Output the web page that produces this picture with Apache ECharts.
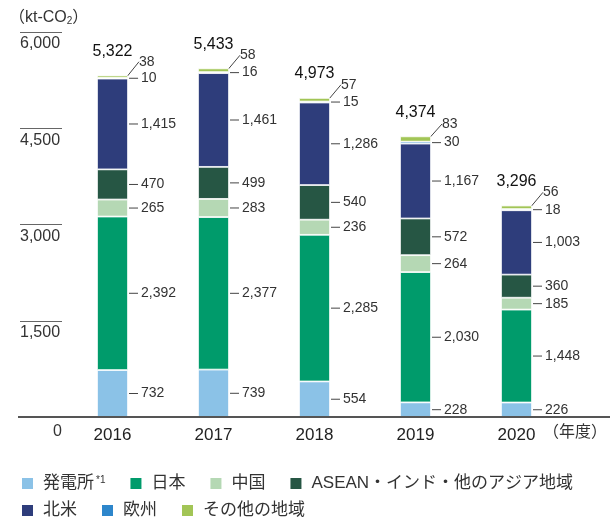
<!DOCTYPE html>
<html>
<head>
<meta charset="utf-8">
<script src="https://cdn.jsdelivr.net/npm/echarts@6/dist/echarts.min.js"></script>
<style>
html, body { margin: 0; padding: 0; background: #fff; }
#main { width: 610px; height: 521px; }
</style>
</head>
<body>
<div id="main"></div>
<script>
// 年度別 CO2 排出量 (kt-CO2)
const years = ['2016', '2017', '2018', '2019', '2020']
const plant = [732, 739, 554, 228, 226]
const japan = [2392, 2377, 2285, 2030, 1448]
const china = [265, 283, 236, 264, 185]
const asean = [470, 499, 540, 572, 360]
const northAmerica = [1415, 1461, 1286, 1167, 1003]
const europe = [10, 16, 15, 30, 18]
const others = [38, 58, 57, 83, 56]
const totals = [5322, 5433, 4973, 4374, 3296]
const yTicks = [0, 1500, 3000, 4500, 6000]

const names = ['発電所*1', '日本', '中国', 'ASEAN・インド・他のアジア地域', '北米', '欧州', 'その他の地域']
const colors = ['#8bc2e7', '#009b6b', '#b5d8b4', '#265644', '#2e3d7b', '#2d86cb', '#a2c556']
const values = [plant, japan, china, asean, northAmerica, europe, others]

const FONT = '"Liberation Sans", "Noto Sans CJK JP", sans-serif'
const fmt = v => v.toLocaleString('en-US')

let series = values.map((arr, i) => {
  let last = i === values.length - 1
  let s = {
    name: names[i],
    type: 'bar',
    stack: 'co2',
    barWidth: 31,
    data: arr,
    itemStyle: { color: colors[i], borderColor: '#fff', borderWidth: 0.8 },
    label: {
      show: true,
      position: 'right',
      distance: 1,
      fontFamily: FONT,
      fontSize: 14,
      color: '#333',
      formatter: p => last ? '{v|' + fmt(p.value) + '}' : '{l|}{v|' + fmt(p.value) + '}',
      rich: {
        l: { width: 9, height: 1, backgroundColor: '#444' },
        v: { fontFamily: FONT, fontSize: 14, color: '#333', padding: [0, 0, 0, 3] }
      }
    }
  }
  if (last) {
    s.label.distance = 8
    s.labelLayout = { dy: -15 }
    s.labelLine = { show: true, lineStyle: { color: '#444', width: 1 } }
  }
  return s
})

// 合計ラベル用 (透明)
series.push({
  name: 'total',
  type: 'bar',
  barWidth: 31,
  barGap: '-100%',
  silent: true,
  z: 1,
  data: totals,
  itemStyle: { color: 'rgba(0,0,0,0)' },
  label: {
    show: true,
    position: 'top',
    distance: 16,
    fontFamily: FONT,
    fontSize: 16,
    color: '#111',
    formatter: p => fmt(p.value)
  }
})

const legendText = {
  fontFamily: FONT,
  fontSize: 17,
  color: '#333',
  padding: [0, 0, 0, 4],
  rich: {
    sup: { fontFamily: FONT, fontSize: 10, color: '#333', padding: [0, 0, 7, 2] }
  }
}
const legendFmt = n => n === '発電所*1' ? '発電所{sup|*1}' : n

let myChart = echarts.init(document.getElementById('main'))
let option = {
  animation: false,
  title: {
    text: '（kt-CO{s|2}）',
    left: 4,
    top: 5,
    textStyle: {
      fontFamily: FONT,
      fontSize: 16,
      fontWeight: 'normal',
      color: '#333',
      rich: {
        s: { fontFamily: FONT, fontSize: 10, color: '#333', padding: [6, 0, 0, 0] }
      }
    }
  },
  grid: { left: 62, right: 36, top: 32, bottom: 104 },
  legend: [
    {
      data: names.slice(0, 4),
      left: 15,
      top: 470,
      itemWidth: 13,
      itemHeight: 13,
      itemGap: 23,
      icon: 'rect',
      formatter: legendFmt,
      textStyle: legendText
    },
    {
      data: names.slice(4),
      left: 15,
      top: 497,
      itemWidth: 13,
      itemHeight: 13,
      itemGap: 23,
      icon: 'rect',
      formatter: legendFmt,
      textStyle: legendText
    }
  ],
  xAxis: {
    type: 'category',
    data: years,
    axisLine: { show: false },
    axisTick: { show: false },
    axisLabel: { fontFamily: FONT, fontSize: 17, color: '#222', margin: 10 },
    name: '（年度）',
    nameLocation: 'end',
    nameGap: -24,
    nameTextStyle: {
      fontFamily: FONT,
      fontSize: 16,
      color: '#333',
      align: 'left',
      verticalAlign: 'top',
      padding: [8, 0, 0, 0]
    }
  },
  yAxis: {
    type: 'value',
    min: yTicks[0],
    max: yTicks[yTicks.length - 1],
    interval: yTicks[1] - yTicks[0],
    axisLine: { show: false },
    splitLine: { show: false },
    axisTick: { show: true, length: 42, lineStyle: { color: '#666', width: 1 } },
    axisLabel: {
      align: 'left',
      margin: 42,
      verticalAlign: 'top',
      padding: [4, 0, 0, 0],
      fontFamily: FONT,
      fontSize: 16,
      color: '#333',
      formatter: v => v === 0 ? '{z|0}' : fmt(v),
      rich: {
        z: { fontFamily: FONT, fontSize: 16, color: '#333', padding: [3, 0, 0, 33] }
      }
    }
  },
  graphic: [
    {
      type: 'line',
      z: 100,
      shape: { x1: 18, y1: 417, x2: 610, y2: 417 },
      style: { stroke: '#555', lineWidth: 2 }
    }
  ],
  series: series
}
myChart.setOption(option, true)
</script>
</body>
</html>
